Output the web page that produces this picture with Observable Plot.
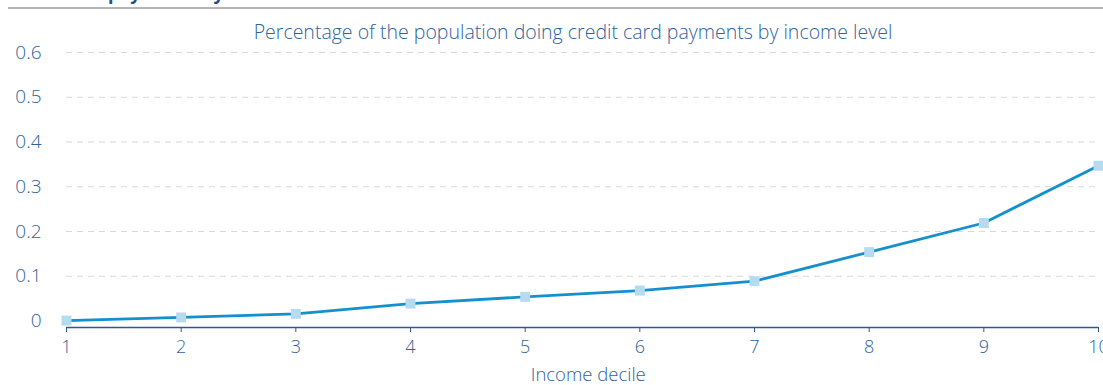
<!DOCTYPE html>
<html>
<head>
<meta charset="utf-8">
<script src="https://cdn.jsdelivr.net/npm/d3@7"></script>
<script src="https://cdn.jsdelivr.net/npm/@observablehq/plot@0.6"></script>
<style>
  html, body { margin: 0; padding: 0; background: #fff; overflow: hidden; }
  body { width: 1103px; height: 385px; position: relative; font-family: "Open Sans", sans-serif; }
  #header { position: relative; height: 40px; }
  #title { position: absolute; left: 4px; top: -19px; font-size: 18px; font-weight: 700; color: #1f4f8f; white-space: nowrap; }
  #rule { position: absolute; left: 8px; right: 0; top: 7px; height: 0; border-top: 2px solid #b5b5b5; }
  #subtitle { position: absolute; left: 0; width: 1146px; top: 18px; text-align: center; font-size: 19.5px; font-weight: 300; color: #2f639e; white-space: nowrap; }
</style>
</head>
<body>
<div id="header">
  <div id="title">Credit card payments by income decile</div>
  <div id="rule"></div>
  <div id="subtitle">Percentage of the population doing credit card payments by income level</div>
</div>
<div id="chart"></div>
<script>
const deciles = [1, 2, 3, 4, 5, 6, 7, 8, 9, 10];
const shares = [0.001, 0.008, 0.016, 0.039, 0.054, 0.068, 0.089, 0.154, 0.219, 0.347];
const yTicks = [0, 0.1, 0.2, 0.3, 0.4, 0.5, 0.6];
const gridTicks = [0.1, 0.2, 0.3, 0.4, 0.5, 0.6];
const xLabel = "Income decile";

const data = deciles.map((d, i) => ({decile: d, share: shares[i]}));

const chart = Plot.plot({
  width: 1103,
  height: 345,
  marginLeft: 66,
  marginRight: 5,
  marginTop: 12,
  marginBottom: 58,
  style: {fontFamily: "Open Sans, sans-serif", fontWeight: 300, background: "#fff", overflow: "visible"},
  x: {domain: [1, 10], label: null},
  y: {domain: [-0.0145, 0.6], label: null},
  marks: [
    Plot.ruleY(gridTicks, {stroke: "#d9d9d9", strokeWidth: 1, strokeDasharray: "6,5"}),
    Plot.axisY(yTicks, {
      tickSize: 0, tickPadding: 25, fontSize: 19, fill: "#2f639e", label: null,
      tickFormat: d => d === 0 ? "0" : String(d)
    }),
    Plot.axisX(deciles, {
      tickSize: 5, tickPadding: 8, fontSize: 18, fill: "#2f639e", stroke: "#2d5a8e",
      label: null, tickFormat: d => String(d)
    }),
    Plot.ruleY([-0.0145], {stroke: "#2d5a8e", strokeWidth: 1.5}),
    Plot.text([xLabel], {
      frameAnchor: "bottom", dy: 53, fontSize: 18.5, fill: "#2f639e",
      x: () => 5.55, text: d => d
    }),
    Plot.line(data, {x: "decile", y: "share", stroke: "#1490cf", strokeWidth: 2.8}),
    Plot.dot(data, {x: "decile", y: "share", symbol: "square", r: 5.6, fill: "#b4dbf0", stroke: "none"})
  ]
});
document.getElementById("chart").appendChild(chart);
</script>
</body>
</html>
